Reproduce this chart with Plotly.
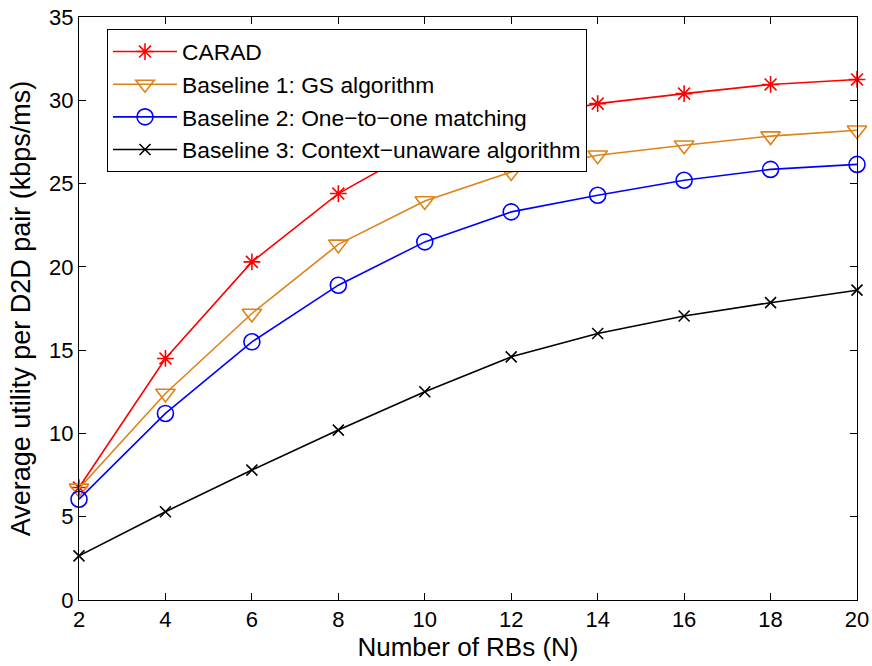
import plotly.graph_objects as go

# Number of resource blocks
n_rbs = [2, 4, 6, 8, 10, 12, 14, 16, 18, 20]

# Average utility per D2D pair (kbps/ms)
carad = [6.75, 14.5, 20.3, 24.4, 27.3, 28.8, 29.8, 30.4, 30.95, 31.25]
baseline1 = [6.7, 12.4, 17.2, 21.35, 23.95, 25.7, 26.7, 27.3, 27.85, 28.2]
baseline2 = [6.05, 11.2, 15.5, 18.9, 21.5, 23.3, 24.3, 25.2, 25.85, 26.15]
baseline3 = [2.65, 5.3, 7.8, 10.2, 12.5, 14.6, 16.0, 17.05, 17.85, 18.6]

series = [
    ("CARAD", carad, "rgb(255,0,0)", "asterisk-open", 14),
    ("Baseline 1: GS algorithm", baseline1, "rgb(222,130,25)", "triangle-down-open", 17),
    ("Baseline 2: One\u2212to\u2212one matching", baseline2, "rgb(0,0,255)", "circle-open", 16),
    ("Baseline 3: Context\u2212unaware algorithm", baseline3, "rgb(0,0,0)", "x-thin-open", 11),
]

fig = go.Figure()
for name, vals, color, symbol, size in series:
    fig.add_trace(go.Scatter(
        x=n_rbs, y=vals, name=name, mode="lines+markers",
        line=dict(color=color, width=1.6),
        marker=dict(symbol=symbol, size=size, color=color,
                    line=dict(color=color, width=1.6)),
        cliponaxis=False,
    ))

font_family = "Liberation Sans, Arial, Helvetica, sans-serif"
axis_common = dict(
    showline=True, linecolor="black", linewidth=1, mirror="ticks",
    ticks="inside", ticklen=7, tickcolor="black", tickwidth=1,
    showgrid=False, zeroline=False, automargin=False,
    tickfont=dict(family=font_family, size=22, color="black"),
)

fig.update_layout(
    width=872, height=666,
    margin=dict(l=79, r=15, t=17, b=66),
    paper_bgcolor="white", plot_bgcolor="white",
    font=dict(family=font_family, color="black"),
    xaxis=dict(range=[2, 20], tickvals=list(range(2, 21, 2)),
               title=dict(text="Number of RBs (N)", font=dict(size=26), standoff=2),
               **axis_common),
    yaxis=dict(range=[0, 35], tickvals=list(range(0, 36, 5)),
               title=dict(text="Average utility per D2D pair (kbps/ms)", font=dict(size=27), standoff=10),
               **axis_common),
    legend=dict(
        x=0.036, y=0.979, xanchor="left", yanchor="top",
        bgcolor="white", bordercolor="black", borderwidth=1,
        font=dict(family=font_family, size=22.8, color="black"),
        tracegroupgap=0, itemwidth=64,
    ),
)

fig.write_html("out.html")
